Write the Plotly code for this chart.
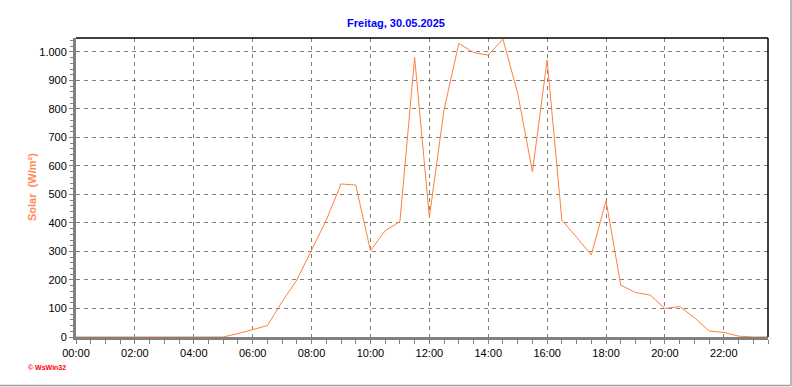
import plotly.graph_objects as go

times = ["00:00","00:30","01:00","01:30","02:00","02:30","03:00","03:30","04:00","04:30",
         "05:00","05:30","06:00","06:30","07:00","07:30","08:00","08:30","09:00","09:30",
         "10:00","10:30","11:00","11:30","12:00","12:30","13:00","13:30","14:00","14:30",
         "15:00","15:30","16:00","16:30","17:00","17:30","18:00","18:30","19:00","19:30",
         "20:00","20:30","21:00","21:30","22:00","22:30","23:00","23:30"]
solar = [0,0,0,0,0,0,0,0,0,0,
         0,12,25,40,124,200,305,410,537,533,
         303,373,405,981,420,798,1030,998,989,1045,
         855,580,972,410,350,288,478,182,156,147,
         100,107,68,21,16,3,0,0]
y_ticks = [0,100,200,300,400,500,600,700,800,900,1000]
y_labels = ["0","100","200","300","400","500","600","700","800","900","1.000"]
x_ticks = ["00:00","02:00","04:00","06:00","08:00","10:00","12:00","14:00","16:00","18:00","20:00","22:00"]

day = "2025-05-30 "
xs = [day + t for t in times]

fig = go.Figure()
fig.add_trace(go.Scatter(x=xs, y=solar, mode="lines",
                         line=dict(color="#FF7F3F", width=1), hoverinfo="skip"))

W, H = 792, 387
L, R, T, B = 76, 768, 38, 337
fig.update_layout(
    width=W, height=H,
    margin=dict(l=L, r=W - R, t=T, b=H - B),
    paper_bgcolor="white", plot_bgcolor="white",
    showlegend=False,
    font=dict(family="Liberation Sans, Arial, sans-serif", size=11, color="black"),
    title=dict(text="<b>Freitag, 30.05.2025</b>", x=0.5, xanchor="center",
               y=1 - 23 / H, yanchor="middle",
               font=dict(size=11, color="#0000FF")),
)
fig.update_xaxes(
    type="date",
    range=[day + "00:00", day + "23:30"],
    tickvals=[day + t for t in x_ticks], ticktext=x_ticks,
    ticks="outside", ticklen=4, tickcolor="#808080",
    minor=dict(dtick=30 * 60 * 1000, ticks="outside", ticklen=4, tickcolor="#808080", showgrid=False),
    showgrid=True, gridcolor="#808080", gridwidth=1, griddash="4px,4px",
    showline=True, linecolor="#808080", linewidth=3,
    zeroline=False, tickfont=dict(size=11, color="black"),
)
fig.update_yaxes(
    range=[0, 1049],
    tickvals=y_ticks, ticktext=y_labels,
    ticks="outside", ticklen=4, tickcolor="#808080",
    minor=dict(dtick=20, ticks="outside", ticklen=3, tickcolor="#808080", showgrid=False),
    showgrid=True, gridcolor="#808080", gridwidth=1, griddash="4px,4px",
    showline=True, linecolor="#808080", linewidth=3,
    zeroline=False, tickfont=dict(size=11, color="black"),
)

pw, ph = R - L, B - T
def px(x): return (x - L) / pw
def py(y): return (B - y) / ph

# black top & right frame
fig.add_shape(type="line", xref="paper", yref="paper", x0=0, x1=1, y0=1, y1=1,
              line=dict(color="black", width=1.5))
fig.add_shape(type="line", xref="paper", yref="paper", x0=1, x1=1, y0=0, y1=1,
              line=dict(color="black", width=1.5))
# outer gray border (right and bottom)
fig.add_shape(type="line", xref="paper", yref="paper", x0=px(0), x1=px(791), y0=py(385.5), y1=py(385.5),
              line=dict(color="#A0A0A0", width=1.5))
fig.add_shape(type="line", xref="paper", yref="paper", x0=px(791), x1=px(791), y0=py(0), y1=py(385.5),
              line=dict(color="#A0A0A0", width=1.5))

fig.add_annotation(text="<b>Solar  (W/m²)</b>", xref="paper", yref="paper",
                   x=px(32), y=py(187), textangle=-90, showarrow=False,
                   font=dict(size=11, color="#FF8A55"), xanchor="center", yanchor="middle")
fig.add_annotation(text="<b>© WsWin32</b>", xref="paper", yref="paper",
                   x=px(26), y=py(367), showarrow=False, xanchor="left", yanchor="middle",
                   font=dict(size=7, color="#FF0000", family="Liberation Sans, Arial"))

fig.write_html("out.html")
